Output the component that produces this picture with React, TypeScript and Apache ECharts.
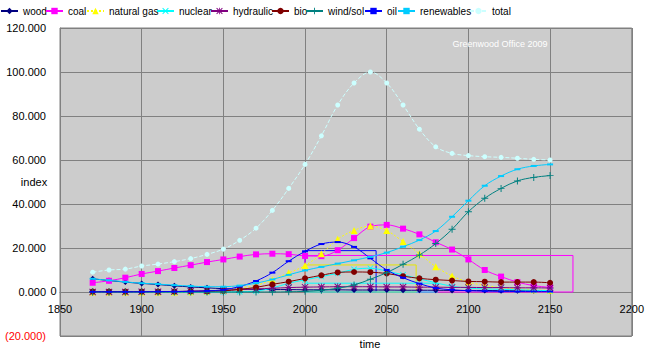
import React, { useEffect, useRef } from 'react';
import * as echarts from 'echarts';

// ---------- data ----------
const years = [1870, 1880, 1890, 1900, 1910, 1920, 1930, 1940, 1950, 1960, 1970, 1980, 1990, 2000, 2010, 2020, 2030, 2040, 2050, 2060, 2070, 2080, 2090, 2100, 2110, 2120, 2130, 2140, 2150];

const wood = [6.0, 5.2, 4.5, 3.9, 3.4, 2.8, 2.3, 1.9, 1.5, 1.3, 1.2, 1.1, 1.1, 1.0, 1.0, 1.0, 0.9, 0.9, 0.9, 0.8, 0.8, 0.8, 0.7, 0.7, 0.7, 0.6, 0.6, 0.6, 0.5];
const coal = [4.2, 5.1, 6.5, 8.2, 9.5, 10.9, 12.2, 13.6, 14.8, 16.1, 17.1, 17.4, 17.2, 16.4, 16.3, 19.0, 24.5, 29.7, 30.5, 28.8, 26.2, 22.6, 19.3, 14.8, 10.0, 7.0, 4.5, 2.9, 2.1];
const naturalGas = [0, 0, 0, 0, 0, 0, 0.1, 0.3, 0.8, 1.8, 3.0, 5.6, 8.7, 12.0, 17.4, 24.0, 28.0, 30.0, 27.9, 22.9, 17.4, 11.5, 7.3, 4.5, 3.0, 2.0, 1.5, 1.0, 0.8];
const nuclear = [0, 0, 0, 0, 0, 0, 0, 0, 0, 0.1, 0.4, 1.8, 4.0, 5.5, 7.0, 8.5, 10.3, 10.8, 9.5, 7.8, 6.0, 4.2, 2.6, 1.8, 1.4, 1.2, 1.0, 0.8, 0.6];
const hydraulic = [0, 0, 0, 0.1, 0.1, 0.2, 0.4, 0.6, 0.8, 1.1, 1.4, 1.7, 2.0, 2.2, 2.3, 2.4, 2.4, 2.4, 2.3, 2.3, 2.2, 2.2, 2.1, 2.1, 2.0, 2.0, 1.9, 1.9, 1.8];
const bio = [0.2, 0.2, 0.2, 0.2, 0.2, 0.2, 0.3, 0.3, 0.5, 1.2, 2.1, 3.5, 4.7, 6.2, 7.6, 8.9, 9.1, 9.0, 8.4, 7.2, 6.2, 5.6, 5.2, 4.8, 4.7, 4.5, 4.5, 4.5, 4.2];
const windSol = [0, 0, 0, 0, 0, 0, 0, 0, 0, 0, 0, 0, 0.1, 0.3, 0.8, 1.7, 3.2, 5.8, 8.8, 12.6, 16.8, 22.0, 28.5, 36.5, 42.6, 47.1, 50.5, 52.1, 52.9];
const oil = [0.1, 0.1, 0.1, 0.1, 0.2, 0.2, 0.3, 0.5, 1.0, 2.5, 5.0, 8.8, 14.0, 18.5, 21.8, 22.7, 20.5, 15.3, 10.0, 6.5, 3.8, 1.8, 1.0, 0.6, 0.4, 0.3, 0.2, 0.2, 0.2];
const renewables = [6.0, 5.3, 4.6, 4.0, 3.6, 3.1, 2.7, 2.4, 2.4, 2.9, 4.0, 5.7, 7.8, 9.8, 11.4, 12.9, 14.4, 16.0, 17.9, 20.6, 23.6, 27.7, 34.2, 41.5, 48.3, 52.7, 55.8, 57.3, 58.0];
const total = [9.0, 10.0, 10.4, 11.8, 12.7, 13.8, 15.2, 17.1, 19.5, 23.5, 29.0, 37.1, 47.1, 58.0, 71.0, 85.0, 95.0, 100.0, 95.0, 85.0, 74.0, 66.0, 63.0, 62.0, 61.5, 61.2, 60.8, 60.3, 60.0];

const seriesNames = ['wood', 'coal', 'natural gas', 'nuclear', 'hydraulic', 'bio', 'wind/sol', 'oil', 'renewables', 'total'];
const seriesValues = [wood, coal, naturalGas, nuclear, hydraulic, bio, windSol, oil, renewables, total];

// reserve boxes drawn from 2000
const boxNames = ['oil', 'coal', 'natural gas', 'nuclear'];
const boxStartYear = 2000;
const boxEndYears = [2043.5, 2164, 2068, 2081];
const boxLevels = [18.8, 16.6, 12.3, 4.0];

// ---------- styles ----------
const X_MARK = 'path://M0,1L1,0L5,4L9,0L10,1L6,5L10,9L9,10L5,6L1,10L0,9L4,5Z';
const STAR = 'path://M4.4,0h1.2v10h-1.2z M0,4.4h10v1.2h-10z M0,1L1,0L10,9L9,10Z M9,0L10,1L1,10L0,9Z';
const PLUS = 'path://M4.3,0h1.4v10h-1.4z M0,4.3h10v1.4h-10z';

const styles: Record<string, any> = {
  wood: { color: '#000080', symbol: 'diamond', size: 6, type: 'solid' },
  coal: { color: '#ff00ff', symbol: 'rect', size: 6, type: 'solid' },
  'natural gas': { color: '#ffff00', symbol: 'triangle', size: 7, type: [2, 2] },
  nuclear: { color: '#00ffff', symbol: X_MARK, size: 6, type: 'solid' },
  hydraulic: { color: '#800080', symbol: STAR, size: 7, type: 'solid' },
  bio: { color: '#800000', symbol: 'circle', size: 6, type: 'solid' },
  'wind/sol': { color: '#008080', symbol: PLUS, size: 7, type: 'solid' },
  oil: { color: '#0000ff', symbol: 'rect', size: [6, 2], type: 'solid' },
  renewables: { color: '#00ccff', symbol: 'rect', size: [6, 2], type: 'solid' },
  total: { color: '#ccffff', symbol: 'circle', size: 5, type: [4, 2] },
};
const boxColors: Record<string, string> = {
  oil: '#0000ff',
  coal: '#ff00ff',
  'natural gas': '#e6e600',
  nuclear: '#00ffff',
};

const legendLefts = [0, 45, 86, 156, 210, 271, 305, 364, 397, 469];
const FONT = "'Liberation Sans', Arial, sans-serif";

function buildOption() {
  const lineSeries = seriesNames.map((name, i) => {
    const s = styles[name];
    return {
      name,
      type: 'line',
      data: years.map((y, k) => [y, seriesValues[i][k]]),
      smooth: 0.35,
      symbol: s.symbol,
      symbolSize: s.size,
      showSymbol: true,
      lineStyle: { color: s.color, width: 1, type: s.type },
      itemStyle: { color: s.color },
      emphasis: { disabled: true },
      z: 3 + i * 0.01,
    };
  });
  const boxSeries = boxNames.map((n, i) => ({
    name: n + ' box',
    type: 'line',
    data: [
      [boxStartYear, 0],
      [boxStartYear, boxLevels[i]],
      [boxEndYears[i], boxLevels[i]],
      [boxEndYears[i], 0],
      [boxStartYear, 0],
    ],
    symbol: 'none',
    smooth: false,
    silent: true,
    lineStyle: { color: boxColors[n], width: 1 },
    emphasis: { disabled: true },
    z: 2,
  }));

  return {
    animation: false,
    backgroundColor: '#ffffff',
    textStyle: { fontFamily: FONT },
    grid: {
      left: 60,
      right: 14,
      top: 28,
      bottom: 20,
      show: true,
      backgroundColor: '#cccccc',
      borderColor: '#808080',
      borderWidth: 1,
    },
    legend: seriesNames.map((n, i) => ({
      data: [n],
      left: legendLefts[i],
      top: 6,
      padding: 0,
      itemGap: 0,
      itemWidth: 17,
      itemHeight: 8,
      selectedMode: false,
      textStyle: { fontSize: 10, color: '#000', fontFamily: FONT },
    })),
    xAxis: {
      type: 'value',
      min: 1850,
      max: 2200,
      interval: 50,
      offset: -44,
      axisLine: { show: true, onZero: false, lineStyle: { color: '#808080', width: 1 } },
      axisTick: { show: false },
      axisLabel: {
        fontSize: 11,
        color: '#000',
        margin: 11,
        fontFamily: FONT,
        showMaxLabel: true,
        showMinLabel: true,
        formatter: (v: number) => String(v),
      },
      splitLine: { show: true, lineStyle: { color: '#808080', width: 1 } },
    },
    yAxis: {
      type: 'value',
      min: -20,
      max: 120,
      interval: 20,
      axisLine: { show: true, lineStyle: { color: '#808080', width: 1 } },
      axisTick: { show: false },
      axisLabel: {
        fontSize: 11,
        color: '#000',
        margin: 14,
        fontFamily: FONT,
        formatter: (v: number) =>
          v < 0 ? '{neg|(' + Math.abs(v).toFixed(3) + ')}' : v.toFixed(3),
        rich: { neg: { color: '#ff0000', fontSize: 11, fontFamily: FONT } },
      },
      splitLine: { show: true, lineStyle: { color: '#808080', width: 1 } },
    },
    graphic: [
      { type: 'text', x: 34, y: 182, silent: true, style: { text: 'index', fill: '#000', font: `11px ${FONT}`, align: 'center', verticalAlign: 'middle' } },
      { type: 'text', x: 370, y: 344, silent: true, style: { text: 'time', fill: '#000', font: `11px ${FONT}`, align: 'center', verticalAlign: 'middle' } },
      { type: 'text', x: 53.5, y: 291, silent: true, style: { text: '0', fill: '#000', font: `11px ${FONT}`, align: 'center', verticalAlign: 'middle' } },
      { type: 'text', x: 500, y: 44, silent: true, z: 10, style: { text: 'Greenwood Office 2009', fill: '#ffffff', font: `9px ${FONT}`, align: 'center', verticalAlign: 'middle' } },
    ],
    series: [...boxSeries, ...lineSeries],
  };
}

export default function App() {
  const ref = useRef<HTMLDivElement>(null);
  useEffect(() => {
    if (!ref.current) return;
    const chart = echarts.init(ref.current, null, { renderer: 'svg' });
    chart.setOption(buildOption() as any);
    return () => chart.dispose();
  }, []);
  return (
    <div
      ref={ref}
      style={{ position: 'fixed', left: 0, top: 0, width: 647, height: 356 }}
    />
  );
}
